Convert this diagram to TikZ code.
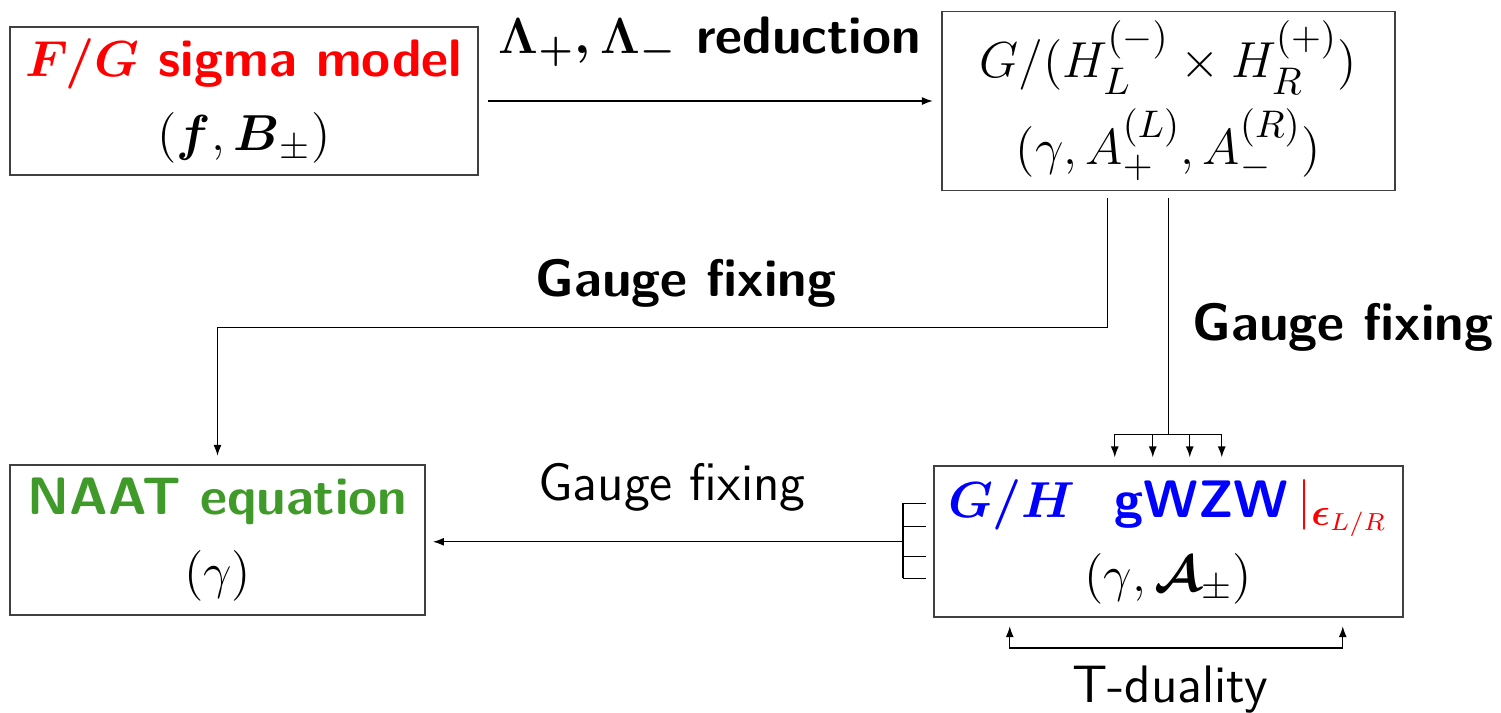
\documentclass[tikz,border=0pt]{standalone}
\usepackage{amsmath}
\usepackage{amssymb}
\usetikzlibrary{positioning,arrows.meta,calc}
\definecolor{naatgreen}{RGB}{64,154,42}

\begin{document}
\begin{tikzpicture}[
  font=\fontsize{15}{19}\selectfont\sffamily,
  box/.style={draw=black!75, align=center, inner xsep=4pt, inner ysep=1pt, line width=0.5pt},
  conn/.style={line width=0.4pt},
  hd/.style={font=\fontsize{15}{19}\selectfont\sffamily\bfseries\boldmath},
  >={Latex[length=1.1mm,width=0.8mm]}
]
\useasboundingbox (0,0) rectangle (15.01,-7.12);
\node[box, minimum width=4.68cm, minimum height=1.48cm] (sigma) at (2.44,-1.01)
  {{\bfseries\boldmath\color{red}$F/G$ sigma model}\\[2pt]$(\boldsymbol{f},\boldsymbol{B}_\pm)$};
\node[box, minimum width=4.53cm, minimum height=1.79cm, right=4.62cm of sigma] (coset)
  {$G/(H_L^{(-)}\times H_R^{(+)})$\\[3pt]$(\gamma,A_+^{(L)},A_-^{(R)})$};
\node[box, minimum width=4.15cm, minimum height=1.50cm, below=2.88cm of sigma.south west, anchor=north west] (naat)
  {{\bfseries\color{naatgreen}NAAT equation}\\[2pt]$(\gamma)$};
\node[box, minimum width=4.69cm, minimum height=1.51cm, below=2.74cm of coset] (gwzw)
  {{\bfseries\boldmath\color{blue}$G/H$\ \ gWZW}\,{\color{red}$|_{\boldsymbol{\epsilon}_{L/R}}$}\\[2pt]$(\gamma,\boldsymbol{\mathcal{A}}_\pm)$};

\draw[conn, ->, shorten <=0.9mm, shorten >=0.8mm] (sigma.east) -- (sigma.east -| coset.west)
  node[midway, above=0.22cm, hd] (redlbl) {$\Lambda_+,\Lambda_-$ reduction};

\draw[conn, ->, shorten <=0.7mm, shorten >=0.8mm] ($(coset.south)+(-0.605,0)$) -- ++(0,-1.36) -| (naat.north);
\node[hd] (gfleft) at (6.86,-2.83) {Gauge fixing};

\coordinate (fork) at ($(coset.south)+(0,-2.43)$);
\draw[conn, shorten <=0.7mm] (coset.south) -- (fork);
\draw[conn] ($(fork)+(-0.535,0)$) -- ($(fork)+(0.535,0)$);
\foreach \dx in {-0.535,-0.155,0.215,0.535}
  \draw[conn, ->, shorten >=0.8mm] ($(fork)+(\dx,0)$) -- ($(gwzw.north)+(\dx,0)$);
\node[hd] (gfright) at (13.43,-3.27) {Gauge fixing};

\coordinate (split) at ($(gwzw.west)+(-0.30,0)$);
\foreach \dy in {0.385,0.155,-0.145,-0.365}
  \draw[conn] ($(split)+(0,\dy)$) -- ($(gwzw.west)+(-0.07,\dy)$);
\draw[conn] ($(split)+(0,0.385)$) -- ($(split)+(0,-0.365)$);
\draw[conn, ->, shorten >=0.7mm] (split) -- (split -| naat.east);
\node (gfbot) at (6.72,-4.87) {Gauge fixing};

\draw[conn, <->, shorten <=0.8mm, shorten >=0.8mm] ($(gwzw.south)+(-1.585,0)$) -- ++(0,-0.30) -| ($(gwzw.south)+(1.745,0)$);
\node (tdual) at (11.70,-6.90) {T-duality};
\end{tikzpicture}
\end{document}
